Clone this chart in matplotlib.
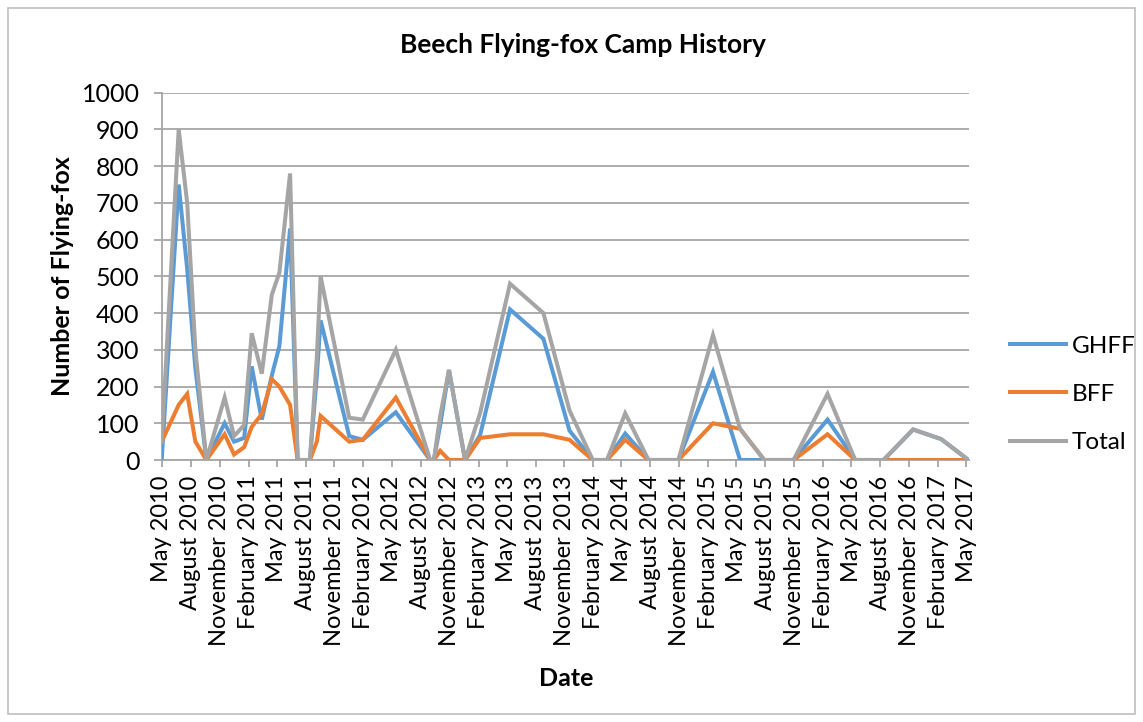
import matplotlib
matplotlib.use("Agg")
import matplotlib.pyplot as plt
from matplotlib.patches import Rectangle
import pandas as pd

dates = ["2010-05-01", "2010-06-24", "2010-07-21", "2010-08-16", "2010-09-20",
         "2010-11-17", "2010-12-17", "2011-01-18", "2011-02-11", "2011-03-15",
         "2011-04-16", "2011-05-10", "2011-06-13", "2011-07-07", "2011-08-15",
         "2011-09-06", "2011-09-18", "2011-12-18", "2012-01-30", "2012-05-14",
         "2012-08-31", "2012-09-12", "2012-10-02", "2012-10-30", "2012-12-20",
         "2013-02-06", "2013-05-12", "2013-08-26", "2013-11-17", "2014-01-30",
         "2014-03-16", "2014-05-13", "2014-07-26", "2014-10-29", "2015-02-16",
         "2015-05-13", "2015-07-29", "2015-10-30", "2016-02-15", "2016-05-13",
         "2016-08-11", "2016-11-13", "2017-02-10", "2017-05-08"]
ghff = [0, 750, 520, 250, 0, 100, 50, 60, 255, 110,
        230, 310, 630, 0, 0, 230, 380, 65, 55, 130,
        0, 0, 95, 245, 0, 68, 410, 330, 80, 0,
        0, 72, 0, 0, 240, 0, 0, 0, 110, 0,
        0, 83, 57, 0]
bff = [50, 150, 180, 50, 0, 70, 15, 35, 90, 125,
       220, 200, 150, 0, 0, 50, 120, 50, 55, 170,
       0, 0, 25, 0, 0, 60, 70, 70, 55, 0,
       0, 55, 0, 0, 100, 85, 0, 0, 70, 0,
       0, 0, 0, 0]
total = [50, 900, 700, 300, 0, 170, 65, 95, 345, 235,
         450, 510, 780, 0, 0, 280, 500, 115, 110, 300,
         0, 0, 120, 245, 0, 128, 480, 400, 135, 0,
         0, 127, 0, 0, 340, 85, 0, 0, 180, 0,
         0, 83, 57, 0]
series_names = ["GHFF", "BFF", "Total"]
series_colors = ["#5B9BD5", "#ED7D31", "#A5A5A5"]
yticks = list(range(0, 1001, 100))
tick_start, tick_end = "2010-05-01", "2017-05-01"

FONT = ["Lato", "DejaVu Sans"]
plt.rcParams["font.family"] = FONT

W, H = 1143, 722
fig = plt.figure(figsize=(W / 100, H / 100), dpi=100)
fig.patch.set_facecolor("white")

L, R, B, T = 161.7, 968.5, 460.0, 92.7
ax = fig.add_axes([L / W, 1 - B / H, (R - L) / W, (B - T) / H])

x = pd.to_datetime(dates)
for vals, name, col in zip([ghff, bff, total], series_names, series_colors):
    ax.plot(x, vals, color=col, lw=2.9, label=name, solid_joinstyle="miter", zorder=3)

ax.set_xlim(x[0], x[-1])
ax.set_ylim(0, 1000)
ax.set_yticks(yticks)
ticks = pd.date_range(tick_start, tick_end, freq="3MS")
ax.set_xticks(ticks)
ax.set_xticklabels([d.strftime("%B %Y") for d in ticks], rotation=90)

grid_col = "#A6A6A6"
ax.grid(axis="y", color=grid_col, lw=1.3, zorder=1)
for s in ["top", "right"]:
    ax.spines[s].set_visible(False)
for s in ["left", "bottom"]:
    ax.spines[s].set_color(grid_col)
    ax.spines[s].set_linewidth(1.3)
ax.tick_params(axis="y", direction="out", length=6, width=1.3, color=grid_col,
               labelsize=18, pad=10, labelcolor="black")
ax.tick_params(axis="x", direction="out", length=5, width=1.3, color=grid_col,
               labelsize=17, pad=6, labelcolor="black")

fig.text(583 / W, 1 - 45 / H, "Beech Flying-fox Camp History", ha="center",
         va="center", fontsize=19, fontweight="bold")
fig.text(62 / W, 1 - 276 / H, "Number of Flying-fox", ha="center", va="center",
         rotation=90, fontsize=18, fontweight="bold")
fig.text(566 / W, 1 - 678 / H, "Date", ha="center", va="center",
         fontsize=18, fontweight="bold")

leg = ax.legend(loc="center left", bbox_to_anchor=(1010 / W, 1 - 394.5 / H),
                bbox_transform=fig.transFigure, frameon=False, fontsize=17.5,
                handlelength=2.3, handletextpad=0.25, labelspacing=1.12,
                borderpad=0, borderaxespad=0)

fig.patches.append(Rectangle((8 / W, 8 / H), 1127 / W, 706 / H, transform=fig.transFigure,
                             fill=False, edgecolor="#BFBFBF", lw=1.2))

fig.savefig("out.png", dpi=100)
